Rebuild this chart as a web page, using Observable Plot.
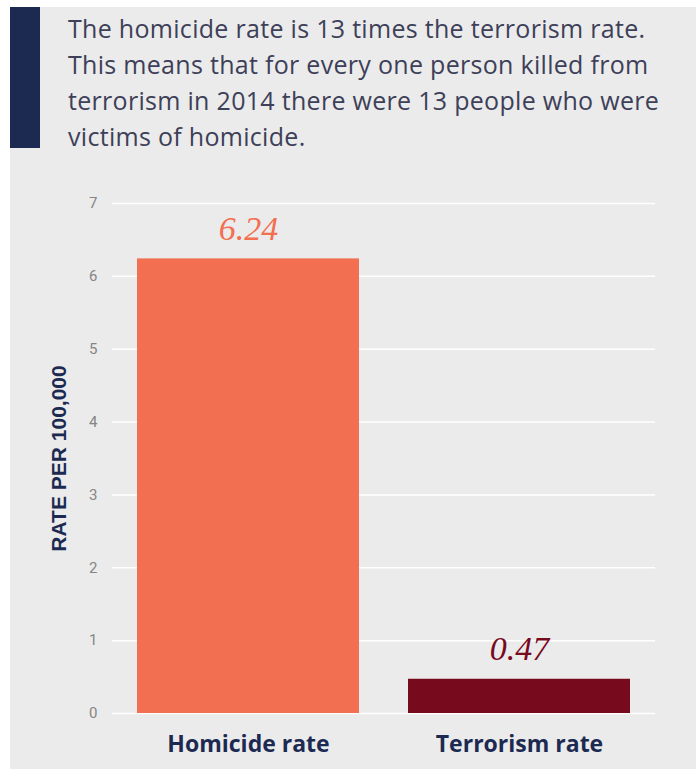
<!DOCTYPE html>
<html>
<head>
<meta charset="utf-8">
<script src="https://cdn.jsdelivr.net/npm/d3@7"></script>
<script src="https://cdn.jsdelivr.net/npm/@observablehq/plot@0.6"></script>
<style>
  html, body { margin: 0; padding: 0; background: #ffffff; }
  #page { position: relative; width: 696px; height: 769px; overflow: hidden; }
  #panel { position: absolute; left: 10px; top: 7px; right: 0; bottom: 0; background: #ebebeb; }
  #accent { position: absolute; left: 10px; top: 7px; width: 30px; height: 141px; background: #1c2a52; }
  #header { position: absolute; left: 68px; top: 10px; width: 625px; font-family: "Open Sans", sans-serif; font-size: 25px; line-height: 36px; color: #3d4058; font-weight: 400; letter-spacing: 0.3px; white-space: nowrap; }
  #chart { position: absolute; left: 0; top: 0; }
  #chart [aria-label="y-axis label"] text { font-size: 21px; font-weight: bold; fill: #1c2a52; font-family: "Liberation Sans", Arial, sans-serif; }
</style>
</head>
<body>
<div id="page">
  <div id="panel"></div>
  <div id="accent"></div>
  <div id="header">The homicide rate is 13 times the terrorism rate.<br>This means that for every one person killed from<br>terrorism in 2014 there were 13 people who were<br>victims of homicide.</div>
  <div id="chart"></div>
</div>
<script>
const categories = ["Homicide rate", "Terrorism rate"];
const values = [6.24, 0.47];
const barColors = ["#f26f51", "#780a1e"];
const yTicks = [0, 1, 2, 3, 4, 5, 6, 7];
const yTitle = "RATE PER 100,000";

const data = categories.map((c, i) => ({category: c, value: values[i]}));

const chart = Plot.plot({
  width: 696,
  height: 769,
  marginTop: 203,
  marginBottom: 56,
  marginLeft: 112,
  marginRight: 41,
  style: {background: "transparent", fontFamily: "Roboto, sans-serif", overflow: "visible"},
  x: {domain: categories, paddingInner: 0.181, paddingOuter: 0.092, label: null},
  y: {domain: [0, 7], label: null},
  color: {domain: categories, range: barColors},
  marks: [
    Plot.ruleY(yTicks, {stroke: "#ffffff", strokeWidth: 1.5}),
    Plot.barY(data, {x: "category", y: "value", fill: "category"}),
    Plot.text(data, {
      x: "category", y: "value", text: d => d.value.toFixed(2), fill: "category",
      dy: -30, fontSize: 34, fontStyle: "italic", fontFamily: "'Liberation Serif', 'DejaVu Serif', serif"
    }),
    Plot.axisY({ticks: yTicks, tickFormat: d3.format("d"), tickSize: 0, tickPadding: 15, fontSize: 15, color: "#858585",
      label: yTitle, labelAnchor: "center", labelOffset: 61, labelArrow: "none"}),
    Plot.axisX({tickSize: 0, tickPadding: 22, fontSize: 23, fontWeight: "bold", color: "#1c2a52", label: null,
      fontFamily: "'Open Sans', sans-serif"})
  ]
});
document.getElementById("chart").appendChild(chart);
</script>
</body>
</html>
